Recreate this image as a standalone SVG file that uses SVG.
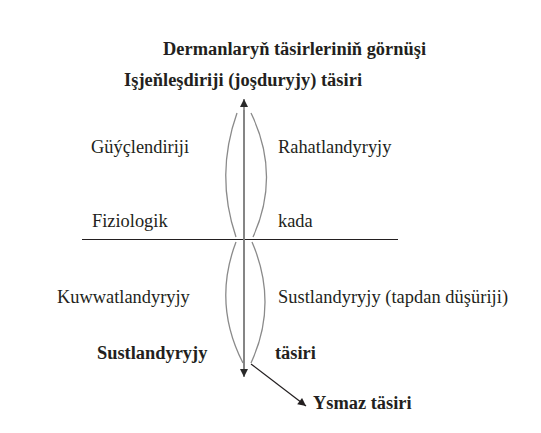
<svg xmlns="http://www.w3.org/2000/svg" width="541" height="433" viewBox="0 0 541 433">
<style>
text{font-family:"Liberation Serif","DejaVu Serif",serif;font-size:18.4px;fill:#231f20}
.b{font-weight:bold}
.lens{fill:none;stroke:#8a8a8a;stroke-width:1.3}
.axis{fill:none;stroke:#808080;stroke-width:1.6}
.line{fill:none;stroke:#231f20;stroke-width:1.2}
</style>
<defs>
<marker id="ahG" viewBox="0 0 10 10" refX="10" refY="5" markerWidth="8" markerHeight="11" markerUnits="userSpaceOnUse" orient="auto"><path d="M0,0 L10,5 L0,10 Z" fill="#2a2a2a"/></marker>
<marker id="ahK" viewBox="0 0 10 10" refX="10" refY="5" markerWidth="9" markerHeight="8" markerUnits="userSpaceOnUse" orient="auto"><path d="M0,0 L10,5 L0,10 Z" fill="#231f20"/></marker>
</defs>
<rect width="541" height="433" fill="#fff"/>
<g id="connectors">
<line class="line" x1="82" y1="239.5" x2="398" y2="239.5"/>
<path class="lens" d="M237,113 Q215,175 236,237"/>
<path class="lens" d="M251,113 Q281,175 253,237"/>
<path class="lens" d="M236,242 Q212.5,303.5 243,363"/>
<path class="lens" d="M252,242 Q278.5,303.5 251,363"/>
<line class="axis" x1="244" y1="376" x2="244" y2="99" marker-end="url(#ahG)"/>
<line class="axis" x1="244" y1="110" x2="244" y2="377" marker-end="url(#ahG)"/>
<line class="line" x1="251" y1="364" x2="306" y2="406" marker-end="url(#ahK)"/>
</g>
<g font-family="Liberation Serif, serif">
<g id="title"><text class="b" x="163" y="55" textLength="263">Dermanlaryň täsirleriniň görnüşi</text></g>
<g id="n-top"><text class="b" x="124" y="86" textLength="238">Işjeňleşdiriji (joşduryjy) täsiri</text></g>
<g id="n-guycl"><text x="91" y="153">Güýçlendiriji</text></g>
<g id="n-rahat"><text x="278" y="153">Rahatlandyryjy</text></g>
<g id="n-fiz"><text x="92" y="227">Fiziologik</text></g>
<g id="n-kada"><text x="278" y="227">kada</text></g>
<g id="n-kuww"><text x="57" y="303">Kuwwatlandyryjy</text></g>
<g id="n-sust"><text x="278" y="303" textLength="230">Sustlandyryjy (tapdan düşüriji)</text></g>
<g id="n-bottom"><text class="b" x="97" y="359">Sustlandyryjy</text><text class="b" x="275" y="359">täsiri</text></g>
<g id="n-ysmaz"><text class="b" x="313" y="409">Ysmaz täsiri</text></g>
</g>
</svg>
